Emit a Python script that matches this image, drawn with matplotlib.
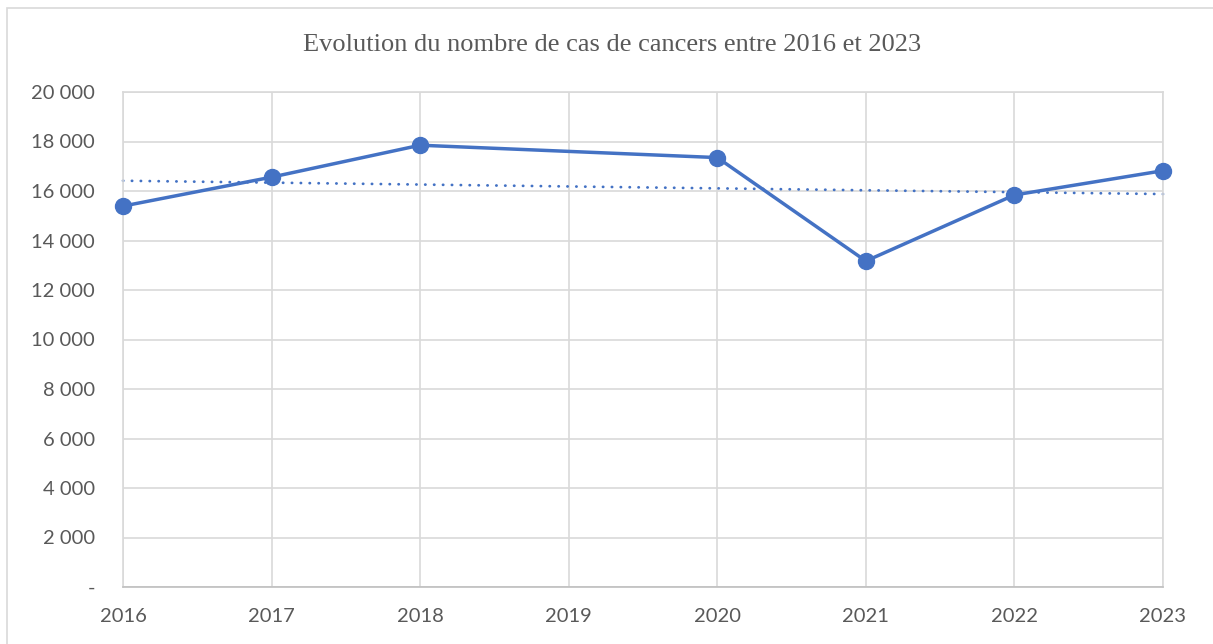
import numpy as np
import matplotlib.pyplot as plt
from matplotlib.patches import Rectangle

# données (2019 absent)
annees = [2016, 2017, 2018, 2020, 2021, 2022, 2023]
cas = [15390, 16560, 17850, 17350, 13170, 15840, 16820]
annees_axe = [2016, 2017, 2018, 2019, 2020, 2021, 2022, 2023]
y_ticks = [0, 2000, 4000, 6000, 8000, 10000, 12000, 14000, 16000, 18000, 20000]

bleu = '#4472C4'
gris_grille = '#d9d9d9'
gris_texte = '#595959'

fig = plt.figure(figsize=(12.13, 6.44), dpi=100)
W, H = 1213, 644
ax = fig.add_axes([123 / W, 1 - 587 / H, (1163 - 123) / W, (587 - 92) / H])

# cadre extérieur
fig.patches.append(Rectangle((7 / W, -0.05), 1.1, 1 - 8 / H + 0.05, transform=fig.transFigure,
                             fill=False, edgecolor=gris_grille, lw=1.2))

ax.plot(annees, cas, color=bleu, lw=2.5, marker='o', markersize=11.5, zorder=3, clip_on=False)

# courbe de tendance linéaire (axe de catégories)
x_idx = np.array([annees_axe.index(a) for a in annees])
coef = np.polyfit(x_idx, cas, 1)
xt = np.array([0, len(annees_axe) - 1])
ax.plot(np.array(annees_axe)[xt], np.polyval(coef, xt), color=bleu, lw=2.0,
        linestyle=(0, (0.1, 3.1)), dash_capstyle='round', zorder=2, clip_on=False)

ax.set_xlim(2016, 2023)
ax.set_ylim(0, 20000)
ax.set_xticks(annees_axe)
ax.set_yticks(y_ticks)
ax.set_yticklabels(['-' if v == 0 else f'{v:,}'.replace(',', ' ') for v in y_ticks])
ax.grid(True, color=gris_grille, lw=1.2)
ax.set_axisbelow(True)
for s in ['top', 'right', 'left']:
    ax.spines[s].set_color(gris_grille)
    ax.spines[s].set_linewidth(1.2)
ax.spines['bottom'].set_color('#bfbfbf')
ax.spines['bottom'].set_linewidth(1.2)
ax.tick_params(length=0, labelsize=14.5, labelcolor=gris_texte)
ax.tick_params(axis='x', pad=15)
ax.tick_params(axis='y', pad=20)
for lab in ax.get_xticklabels() + ax.get_yticklabels():
    lab.set_family('Lato')

fig.text(612 / W, 1 - 45 / H, 'Evolution du nombre de cas de cancers entre 2016 et 2023',
         ha='center', va='center', family='Liberation Serif', fontsize=19, color=gris_texte)

fig.savefig('out.png', dpi=100)
